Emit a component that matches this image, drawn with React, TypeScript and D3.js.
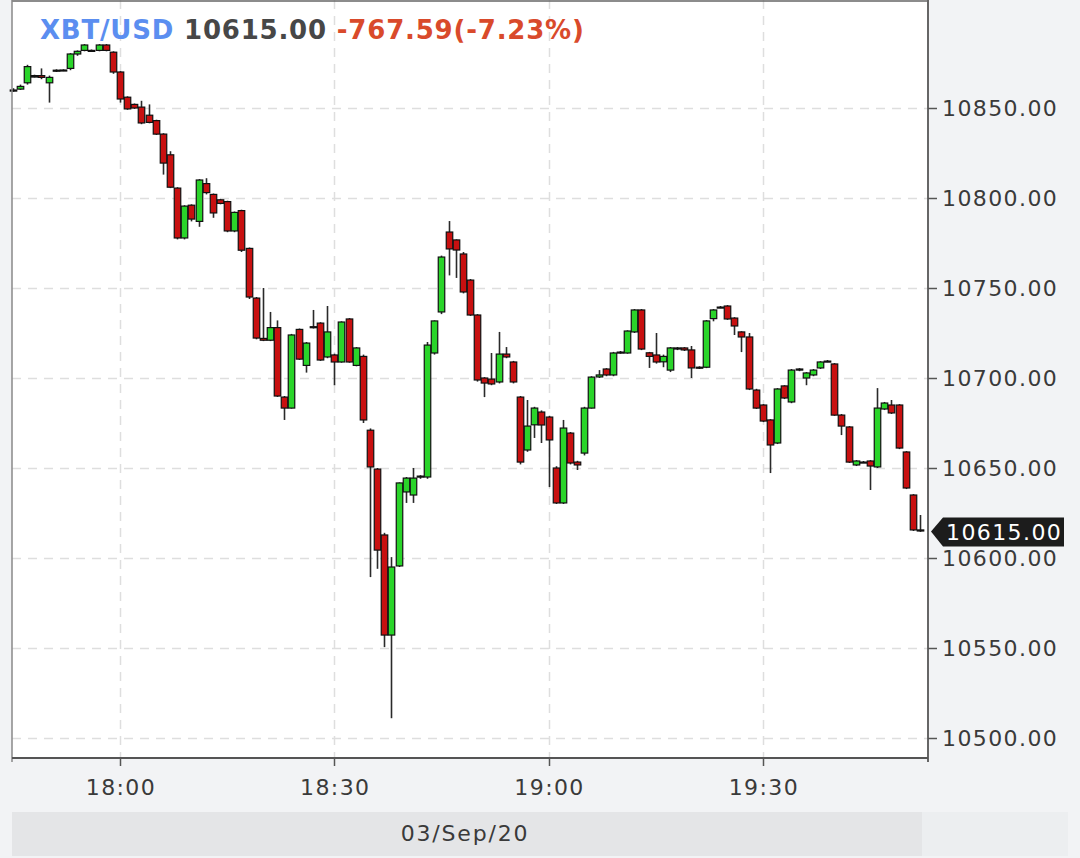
import React from "react";
import * as d3 from "d3";

// ---- data (1-minute candles, XBT/USD, 03/Sep/20, starting 17:45) ----
const opens = [
  10859.4, 10860.5, 10864, 10868, 10868, 10864, 10870.5, 10871, 10872, 10880,
  10882, 10882, 10882, 10885, 10881, 10870, 10856, 10852, 10850.5, 10846,
  10843, 10835.5, 10824, 10805.5, 10777.8, 10796, 10787, 10808, 10802, 10799,
  10798, 10781.7, 10793, 10772, 10744.4, 10722, 10721, 10728, 10689.4, 10683.3,
  10727, 10707, 10728, 10730.5, 10711.7, 10712.8, 10708.9, 10732.8, 10707, 10712,
  10671, 10649.4, 10612.8, 10557.2, 10595.6, 10636.7, 10635, 10645, 10645, 10713.9,
  10736.7, 10781.1, 10776.7, 10768.9, 10754.4, 10735, 10700, 10699.4, 10697.8, 10713.3,
  10708.9, 10689.4, 10660, 10674, 10681.1, 10678.3, 10650, 10630.6, 10669.4, 10653.3,
  10658.3, 10683.3, 10700.6, 10705, 10701.7, 10713.9, 10713.9, 10725.6, 10737.8, 10714,
  10712.8, 10709, 10704.4, 10716.1, 10716.7, 10715.6, 10706, 10706, 10733, 10739,
  10740, 10733.3, 10725.6, 10722.8, 10693.3, 10685, 10676.7, 10663.9, 10695.6, 10686.7,
  10704.4, 10700, 10701.7, 10705.6, 10709, 10707.8, 10679.4, 10672.8, 10651.7, 10653.3,
  10653.9, 10650.6, 10682.8, 10685, 10685, 10658.9, 10635, 10615.6,
];
const closes = [
  10860, 10862, 10873, 10867.2, 10867, 10867, 10871, 10871.1, 10880, 10881.5,
  10885, 10881.7, 10885, 10882, 10870, 10855, 10849.5, 10850, 10841.7, 10842,
  10835.5, 10819.4, 10806, 10777.8, 10795.5, 10788.3, 10810, 10803, 10791.7, 10797,
  10781.7, 10792, 10771, 10745, 10722.2, 10721, 10728, 10690, 10683.3, 10723.9,
  10710.5, 10719.4, 10728.5, 10710, 10725.6, 10708.9, 10731.1, 10708.9, 10716.7, 10676.7,
  10650.6, 10604.4, 10557.2, 10595, 10641.7, 10644.4, 10644.4, 10645.5, 10718.3, 10731.7,
  10767.2, 10771.7, 10771.1, 10747.8, 10735, 10698.9, 10697.2, 10696.7, 10713.3, 10711.7,
  10697.8, 10653.3, 10673.3, 10683.3, 10673.9, 10665.6, 10630.6, 10672.2, 10652.8, 10651.7,
  10683.3, 10700.5, 10701.7, 10701.7, 10713.9, 10714.4, 10726.1, 10737.8, 10716.1, 10712,
  10708.9, 10712, 10716.7, 10716.7, 10715.6, 10705.6, 10705.6, 10731.7, 10737.8, 10739.4,
  10732.8, 10728.9, 10722.8, 10693.9, 10683.3, 10676.1, 10662.8, 10693.9, 10688.9, 10704.4,
  10705, 10702.8, 10704.4, 10708.9, 10709.4, 10679.4, 10673.3, 10653.3, 10653.9, 10653.3,
  10651.1, 10683.3, 10686.1, 10680.6, 10661.1, 10638.9, 10615.6, 10615,
];
const highs = [
  10861, 10863, 10874, 10868.5, 10872, 10868, 10871.5, 10871.5, 10880.5, 10882,
  10885.5, 10882.5, 10885.5, 10885.5, 10881.5, 10870.5, 10856.5, 10852.5, 10854, 10852,
  10843.5, 10836, 10826, 10806, 10796, 10796.5, 10810.5, 10811, 10802.5, 10799.5,
  10798.5, 10792.5, 10793.5, 10772.5, 10745, 10750, 10736.7, 10732, 10690, 10724.5,
  10727.5, 10720, 10737.8, 10731, 10740, 10713.5, 10731.5, 10733.3, 10717.2, 10713,
  10672, 10650, 10614, 10600.5, 10642, 10645, 10650, 10646, 10720, 10732,
  10768, 10787.2, 10777, 10770, 10755, 10735.5, 10700.5, 10713.9, 10725.6, 10717.2,
  10709.5, 10690, 10687.8, 10684, 10682, 10679, 10651, 10676.7, 10670, 10654,
  10684, 10701, 10704.4, 10705.5, 10714.5, 10715, 10726.5, 10738.3, 10738.3, 10714.5,
  10725, 10713, 10717.2, 10717.2, 10717.2, 10717.8, 10706.5, 10732.2, 10738.3, 10740,
  10740.5, 10733.8, 10726, 10725, 10694, 10685.5, 10677.2, 10694.4, 10696, 10705,
  10705.5, 10703.3, 10705, 10709.4, 10710, 10708.3, 10680, 10673.3, 10654.4, 10653.9,
  10654.4, 10694.4, 10686.7, 10687.8, 10685.5, 10659.4, 10635.5, 10623.9,
];
const lows = [
  10859, 10860, 10863, 10867, 10866, 10853, 10870, 10870.5, 10871, 10879,
  10881.5, 10881.5, 10881.5, 10881.5, 10869, 10853, 10849, 10849.5, 10841, 10841.5,
  10835, 10813, 10805.5, 10777, 10777, 10787, 10784, 10802, 10789, 10796.5,
  10781, 10781, 10770, 10743.9, 10721.5, 10720.5, 10720.5, 10689.5, 10676.7, 10683,
  10710, 10703, 10727.5, 10709.5, 10711, 10696, 10708.5, 10708.5, 10706.5, 10675,
  10589.4, 10594, 10550.5, 10511, 10595, 10630.6, 10630.6, 10644, 10644, 10713,
  10735.5, 10757, 10755.6, 10747, 10734.5, 10698, 10689.4, 10696, 10697, 10711,
  10697, 10652, 10659, 10666.7, 10663.9, 10639.4, 10630, 10630, 10652, 10648.9,
  10657, 10683, 10700, 10701, 10701, 10713.5, 10713.5, 10725, 10715.5, 10705.6,
  10708, 10706, 10703.3, 10715.5, 10715, 10700, 10705, 10705.5, 10731.5, 10738.8,
  10732.3, 10723.9, 10714.4, 10693.3, 10682.8, 10675.5, 10647.2, 10663.3, 10688.3, 10686,
  10703.8, 10696, 10701, 10705, 10708.8, 10679, 10668.3, 10652.8, 10651.1, 10652.8,
  10637.8, 10650, 10682.2, 10680, 10660.5, 10638.3, 10615, 10614.5,
];

const yTickValues = [10500, 10550, 10600, 10650, 10700, 10750, 10800, 10850];
const xTickTimes = [[18, 0], [18, 30], [19, 0], [19, 30]];
const symbol = "XBT/USD";
const lastPrice = "10615.00";
const change = "-767.59(-7.23%)";
const dateLabel = "03/Sep/20";

const at = (h: number, m: number, s = 0) => new Date(2020, 8, 3, h, m, s);
const startTime = at(17, 45);

export default function App() {
  const L = 12, R = 928, T = 0, B = 758;
  const x = d3.scaleTime().domain([at(17, 44, 53), at(19, 53, 7)]).range([L, R]);
  const y = d3.scaleLinear().domain([10488.9, 10910]).range([B, T]);
  const fmtT = d3.timeFormat("%H:%M");
  const fmtY = d3.format(".2f");
  const candles = opens.map((o, i) => ({
    t: d3.timeMinute.offset(startTime, i),
    o, c: closes[i], h: highs[i], l: lows[i],
  }));
  const xTicks = xTickTimes.map(([h, m]) => at(h, m));
  const font = "'DejaVu Sans', Verdana, sans-serif";
  const green = "#2ad42a";
  const red = "#c81010";
  const last = candles[candles.length - 1];
  const ly = Math.round(y(last.c)) + 0.5;
  const bw = 6.5;

  return (
    <svg width={1080} height={858} style={{ position: "absolute", left: 0, top: 0 }}
      xmlns="http://www.w3.org/2000/svg">
      <rect x={0} y={0} width={1080} height={858} fill="#f2f3f5" />
      <rect x={L} y={T} width={R - L} height={B - T} fill="#ffffff" />
      {/* grid */}
      {yTickValues.map((v) => (
        <line key={"gy" + v} x1={L} x2={R} y1={Math.round(y(v)) + 0.5} y2={Math.round(y(v)) + 0.5}
          stroke="#dedede" strokeWidth={1.5} strokeDasharray="9,7" />
      ))}
      {xTicks.map((t) => (
        <line key={"gx" + t.getTime()} x1={Math.round(x(t)) + 0.5} x2={Math.round(x(t)) + 0.5} y1={T} y2={B}
          stroke="#dedede" strokeWidth={1.5} strokeDasharray="9,7" />
      ))}
      {/* candles */}
      {candles.map((d, i) => {
        const cx = Math.round(x(d.t)) + 0.5;
        const up = d.c >= d.o;
        const y1 = y(Math.max(d.o, d.c));
        const y2 = y(Math.min(d.o, d.c));
        const hgt = Math.max(1, y2 - y1);
        return (
          <g key={i}>
            <line x1={cx} x2={cx} y1={y(d.h)} y2={y(d.l)} stroke="#2a2a2a" strokeWidth={1.6} />
            <rect x={cx - bw / 2} y={y1} width={bw} height={hgt}
              fill={Math.abs(d.c - d.o) < 0.8 ? "#222" : up ? green : red}
              stroke="#111" strokeWidth={1.2} />
          </g>
        );
      })}
      {/* frame */}
      <line x1={L} x2={R} y1={1} y2={1} stroke="#666" strokeWidth={1.5} />
      <line x1={L} x2={L} y1={0} y2={B + 4} stroke="#888" strokeWidth={1.5} />
      <line x1={R} x2={R} y1={0} y2={B + 4} stroke="#666" strokeWidth={2} />
      <line x1={L} x2={R} y1={B} y2={B} stroke="#555" strokeWidth={2} />
      {/* x axis */}
      {xTicks.map((t) => (
        <g key={"xt" + t.getTime()}>
          <line x1={Math.round(x(t)) + 0.5} x2={Math.round(x(t)) + 0.5} y1={B} y2={B + 8} stroke="#555" strokeWidth={1.5} />
          <text x={x(t) + 1} y={795} textAnchor="middle" fontFamily={font} fontSize={22}
            letterSpacing={1.4} fill="#3a3a3a">{fmtT(t)}</text>
        </g>
      ))}
      {/* y axis */}
      {yTickValues.map((v) => (
        <g key={"yt" + v}>
          <line x1={R} x2={R + 9} y1={Math.round(y(v)) + 0.5} y2={Math.round(y(v)) + 0.5} stroke="#555" strokeWidth={1.5} />
          <text x={942} y={y(v) + 8} fontFamily={font} fontSize={22} letterSpacing={1.4} fill="#3a3a3a">{fmtY(v)}</text>
        </g>
      ))}
      {/* last price marker */}
      <path d={`M${R + 3},${ly} L${943},${ly - 14} L${1064},${ly - 14} L${1064},${ly + 15} L${943},${ly + 15} Z`} fill="#1c1c1c" />
      <text x={946} y={ly + 8} fontFamily={font} fontSize={22} letterSpacing={1.4} fill="#ffffff">{fmtY(last.c)}</text>
      {/* date bar */}
      <rect x={L} y={812} width={922 - L} height={44} fill="#e4e5e7" />
      <rect x={922} y={812} width={1068 - 922} height={44} fill="#eceef0" />
      <text x={465} y={841} textAnchor="middle" fontFamily={font} fontSize={22} letterSpacing={1.8} fill="#3a3a3a">{dateLabel}</text>
      {/* header */}
      <text x={40} y={39} fontFamily={font} fontSize={26} fontWeight="bold" letterSpacing={0.8}>
        <tspan fill="#5b8ef0">{symbol}</tspan>
        <tspan fill="#474747"> {lastPrice}</tspan>
        <tspan fill="#d94a2b"> {change}</tspan>
      </text>
    </svg>
  );
}
